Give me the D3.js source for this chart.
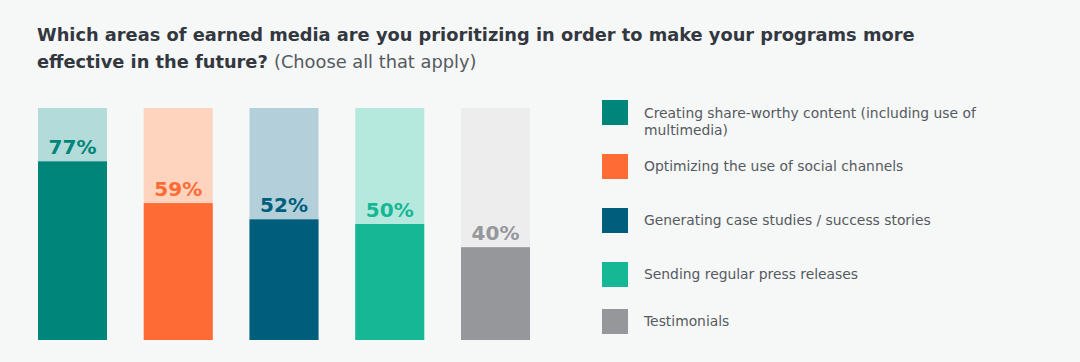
<!DOCTYPE html>
<html><head><meta charset="utf-8">
<script src="https://cdn.jsdelivr.net/npm/d3@7"></script>
<style>
html,body{margin:0;padding:0;background:#f6f7f7;}
svg{display:block;font-family:"DejaVu Sans",sans-serif;}
</style></head>
<body>
<svg id="chart" width="1080" height="362"></svg>
<script>
const categories = ["Creating share-worthy content (including use of multimedia)","Optimizing the use of social channels","Generating case studies / success stories","Sending regular press releases","Testimonials"];
const legendLines = [["Creating share-worthy content (including use of","multimedia)"],["Optimizing the use of social channels"],["Generating case studies / success stories"],["Sending regular press releases"],["Testimonials"]];
const values = [77,59,52,50,40];
const labels = ["77%","59%","52%","50%","40%"];
const colors = ["#00857a","#ff6b35","#005e7d","#16b794","#96979b"];
const bgColors = ["#b3dbd9","#ffd4bf","#b3cfda","#b5e9dd","#ededed"];
const labelColors = ["#00857a","#ff6b35","#005e7d","#16b794","#96979b"];

const svg = d3.select("#chart");
svg.append("rect").attr("width",1080).attr("height",362).attr("fill","#f6f7f7");

const x = d3.scaleBand().domain(categories).range([38,530]).paddingInner(0.3475).paddingOuter(0);
const y = d3.scaleLinear().domain([0,100]).range([340,108]);

// title
const t1 = svg.append("text").attr("x",37).attr("y",41).attr("fill","#333840")
  .attr("font-size",18).attr("font-weight",600)
  .text("Which areas of earned media are you prioritizing in order to make your programs more");
const t2 = svg.append("text").attr("x",37).attr("y",68).attr("font-size",18);
t2.append("tspan").attr("fill","#333840").attr("font-weight",600).text("effective in the future? ");
t2.append("tspan").attr("fill","#555a60").attr("font-weight",400).text("(Choose all that apply)");

// fit title width
const w1 = t1.node().getComputedTextLength();
const fs = 18*878/w1;
t1.attr("font-size",fs); t2.attr("font-size",fs);

const g = svg.append("g");
g.selectAll("rect.bg").data(categories).join("rect").attr("class","bg")
  .attr("x",d=>x(d)).attr("width",x.bandwidth())
  .attr("y",y(100)).attr("height",y(0)-y(100))
  .attr("fill",(d,i)=>bgColors[i]);
g.selectAll("rect.val").data(categories).join("rect").attr("class","val")
  .attr("x",d=>x(d)).attr("width",x.bandwidth())
  .attr("y",(d,i)=>y(values[i])).attr("height",(d,i)=>y(0)-y(values[i]))
  .attr("fill",(d,i)=>colors[i]);
g.selectAll("text.lbl").data(categories).join("text").attr("class","lbl")
  .attr("x",d=>x(d)+x.bandwidth()/2).attr("y",(d,i)=>y(values[i])-7)
  .attr("text-anchor","middle").attr("font-size",20).attr("font-weight",600)
  .attr("fill",(d,i)=>labelColors[i]).text((d,i)=>labels[i]);

// legend
const legY = [100,154,208,262,309];
const leg = svg.append("g");
categories.forEach((c,i)=>{
  leg.append("rect").attr("x",602).attr("y",legY[i]).attr("width",26).attr("height",25).attr("fill",colors[i]);
  const lines = legendLines[i];
  lines.forEach((ln,j)=>{
    const base = lines.length>1 ? legY[i]+18+j*17 : legY[i]+17;
    leg.append("text").attr("class","legt").attr("x",644).attr("y",base)
      .attr("font-size",14).attr("fill","#555a60").text(ln);
  });
});
// fit legend font
const lt = leg.select("text.legt").node();
const lw = lt.getComputedTextLength();
const lfs = 14*332/lw;
leg.selectAll("text.legt").attr("font-size",lfs);
</script>
</body></html>
